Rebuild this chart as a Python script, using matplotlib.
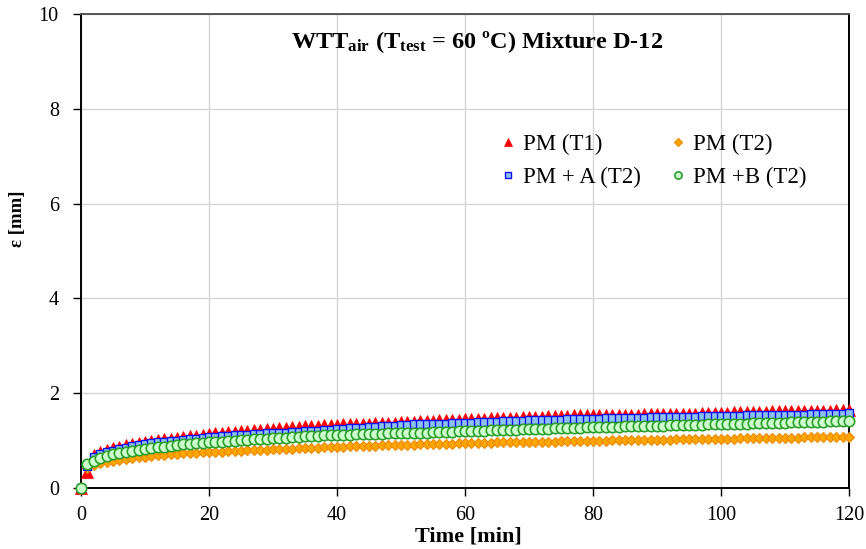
import matplotlib
matplotlib.use("Agg")
import matplotlib.pyplot as plt

plt.rcParams['font.family'] = ['Liberation Serif', 'DejaVu Serif']
plt.rcParams['mathtext.fontset'] = 'custom'
plt.rcParams['mathtext.rm'] = 'Liberation Serif:bold'
plt.rcParams['mathtext.it'] = 'Liberation Serif:bold'
plt.rcParams['mathtext.bf'] = 'Liberation Serif:bold'

time_min = list(range(0, 121))

pm_t1 = [0.00, 0.34, 0.69, 0.76, 0.80, 0.84, 0.87, 0.90, 0.93, 0.95, 0.97,
         0.99, 1.01, 1.03, 1.04, 1.06, 1.07, 1.09, 1.10, 1.11, 1.13,
         1.15, 1.16, 1.18, 1.19, 1.20, 1.21, 1.22, 1.23, 1.24, 1.25,
         1.27, 1.27, 1.28, 1.29, 1.30, 1.30, 1.31, 1.32, 1.32, 1.33,
         1.34, 1.34, 1.35, 1.35, 1.36, 1.37, 1.37, 1.38, 1.38, 1.39,
         1.40, 1.40, 1.41, 1.41, 1.42, 1.43, 1.43, 1.44, 1.44, 1.45,
         1.45, 1.46, 1.46, 1.47, 1.47, 1.47, 1.48, 1.48, 1.49, 1.49,
         1.50, 1.50, 1.51, 1.51, 1.52, 1.52, 1.53, 1.53, 1.54, 1.54,
         1.53, 1.54, 1.54, 1.54, 1.55, 1.55, 1.55, 1.56, 1.56, 1.56,
         1.56, 1.56, 1.56, 1.57, 1.57, 1.57, 1.58, 1.58, 1.59, 1.59,
         1.59, 1.60, 1.60, 1.60, 1.61, 1.61, 1.61, 1.62, 1.62, 1.62,
         1.62, 1.62, 1.62, 1.62, 1.63, 1.63, 1.63, 1.64, 1.64, 1.64]

pm_t2 = [0.00, 0.42, 0.48, 0.52, 0.55, 0.58, 0.60, 0.62, 0.63, 0.65, 0.66,
         0.67, 0.69, 0.70, 0.71, 0.72, 0.73, 0.73, 0.74, 0.75, 0.76,
         0.77, 0.77, 0.78, 0.78, 0.79, 0.80, 0.80, 0.81, 0.81, 0.82,
         0.82, 0.83, 0.83, 0.84, 0.84, 0.85, 0.85, 0.86, 0.86, 0.87,
         0.87, 0.88, 0.88, 0.88, 0.89, 0.89, 0.90, 0.90, 0.90, 0.91,
         0.91, 0.91, 0.92, 0.92, 0.92, 0.93, 0.93, 0.93, 0.94, 0.94,
         0.94, 0.95, 0.95, 0.95, 0.96, 0.96, 0.96, 0.97, 0.97, 0.97,
         0.97, 0.98, 0.98, 0.98, 0.99, 0.99, 0.99, 1.00, 1.00, 1.00,
         1.00, 1.00, 1.01, 1.01, 1.01, 1.01, 1.01, 1.02, 1.02, 1.02,
         1.02, 1.02, 1.03, 1.03, 1.03, 1.03, 1.03, 1.04, 1.04, 1.04,
         1.04, 1.04, 1.05, 1.05, 1.05, 1.05, 1.05, 1.06, 1.06, 1.06,
         1.06, 1.06, 1.07, 1.07, 1.07, 1.07, 1.07, 1.08, 1.08, 1.08]

pm_a_t2 = [0.00, 0.47, 0.65, 0.71, 0.75, 0.79, 0.82, 0.85, 0.88, 0.90, 0.92,
           0.94, 0.96, 0.97, 0.99, 1.00, 1.02, 1.03, 1.04, 1.05, 1.07,
           1.08, 1.09, 1.10, 1.11, 1.12, 1.12, 1.13, 1.14, 1.15, 1.16,
           1.17, 1.17, 1.18, 1.19, 1.20, 1.21, 1.21, 1.22, 1.23, 1.24,
           1.25, 1.26, 1.27, 1.27, 1.28, 1.29, 1.30, 1.31, 1.31, 1.32,
           1.33, 1.34, 1.34, 1.35, 1.35, 1.36, 1.36, 1.37, 1.37, 1.38,
           1.38, 1.39, 1.39, 1.40, 1.40, 1.41, 1.41, 1.42, 1.42, 1.43,
           1.43, 1.43, 1.44, 1.44, 1.44, 1.45, 1.45, 1.45, 1.46, 1.46,
           1.46, 1.47, 1.47, 1.47, 1.48, 1.48, 1.48, 1.48, 1.49, 1.49,
           1.49, 1.49, 1.50, 1.50, 1.50, 1.50, 1.51, 1.51, 1.51, 1.51,
           1.52, 1.52, 1.52, 1.53, 1.53, 1.53, 1.54, 1.54, 1.54, 1.55,
           1.55, 1.55, 1.55, 1.56, 1.56, 1.56, 1.57, 1.57, 1.57, 1.58]

pm_b_t2 = [0.00, 0.50, 0.58, 0.64, 0.68, 0.71, 0.74, 0.76, 0.79, 0.81, 0.83,
           0.84, 0.86, 0.87, 0.89, 0.90, 0.92, 0.93, 0.94, 0.95, 0.96,
           0.97, 0.98, 0.99, 1.00, 1.01, 1.02, 1.03, 1.03, 1.04, 1.05,
           1.06, 1.06, 1.07, 1.08, 1.09, 1.09, 1.10, 1.11, 1.11, 1.12,
           1.12, 1.12, 1.13, 1.13, 1.14, 1.14, 1.14, 1.15, 1.15, 1.15,
           1.16, 1.16, 1.17, 1.17, 1.18, 1.18, 1.19, 1.19, 1.20, 1.20,
           1.20, 1.21, 1.21, 1.22, 1.22, 1.22, 1.23, 1.23, 1.24, 1.24,
           1.24, 1.25, 1.25, 1.26, 1.26, 1.26, 1.27, 1.27, 1.28, 1.28,
           1.28, 1.29, 1.29, 1.29, 1.30, 1.30, 1.30, 1.31, 1.31, 1.31,
           1.31, 1.32, 1.32, 1.32, 1.33, 1.33, 1.33, 1.34, 1.34, 1.34,
           1.35, 1.35, 1.36, 1.36, 1.37, 1.37, 1.37, 1.38, 1.38, 1.38,
           1.39, 1.39, 1.39, 1.40, 1.40, 1.40, 1.41, 1.41, 1.42, 1.42]

labels = ["PM (T1)", "PM + A (T2)", "PM (T2)", "PM +B (T2)"]
x_ticks = [0, 20, 40, 60, 80, 100, 120]
y_ticks = [0, 2, 4, 6, 8, 10]

fig = plt.figure(figsize=(8.66, 5.49), dpi=100)
ax = fig.add_axes([81 / 866, 1 - 488 / 549, 768 / 866, 474 / 549])

h_t1, = ax.plot(time_min, pm_t1, linestyle='none', marker='^', ms=8,
                mfc='#ff0000', mec='#ff0000', mew=0.5, zorder=3, clip_on=False)
h_t2, = ax.plot(time_min, pm_t2, linestyle='none', marker='D', ms=5.5,
                mfc='#ffa500', mec='#ee8a00', mew=0.8, zorder=4, clip_on=False)
h_a, = ax.plot(time_min, pm_a_t2, linestyle='none', marker='s', ms=6,
               mfc='#8ec2f2', mec='#1010ee', mew=1.0, zorder=5, clip_on=False)
h_b, = ax.plot(time_min, pm_b_t2, linestyle='none', marker='o', ms=7.5,
               mfc='#ccffcc', mec='#2e9e2e', mew=1.2, zorder=6, clip_on=False)

ax.set_xlim(0, 120)
ax.set_ylim(0, 10)
ax.set_xticks(x_ticks)
ax.set_yticks(y_ticks)
ax.grid(True, color='#d6d6d6', linewidth=1.0)
ax.set_axisbelow(True)
ax.tick_params(direction='out', length=6, width=1, labelsize=14.5,
               colors='black')
ax.tick_params(axis='y', pad=10)
ax.tick_params(axis='x', pad=7)

for side in ['left', 'bottom', 'right']:
    ax.spines[side].set_color('black')
    ax.spines[side].set_linewidth(1.4)
ax.spines['top'].set_color('#555555')
ax.spines['top'].set_linewidth(1.4)

ax.set_xlabel("Time [min]", fontsize=16, fontweight='bold')
ax.xaxis.set_label_coords(0.505, -0.082)
ax.set_ylabel("ε [mm]", fontsize=13.5, fontweight='bold')
ax.yaxis.set_label_coords(-0.071, 0.567)

ax.text(0.516, 0.941,
        r"WTT$_{\mathrm{air}}$ (T$_{\mathrm{test}}$ = 60 ºC) Mixture D-12",
        transform=ax.transAxes, ha='center', va='center',
        fontsize=17.5, fontweight='bold')

leg = ax.legend([h_t1, h_a, h_t2, h_b], labels, ncol=2, frameon=False,
                loc='upper left', bbox_to_anchor=(0.52, 0.79),
                fontsize=16.5, markerscale=0.7, handlelength=0.6,
                handletextpad=0.35, columnspacing=1.35, labelspacing=0.5)

fig.savefig("out.png", dpi=100)
